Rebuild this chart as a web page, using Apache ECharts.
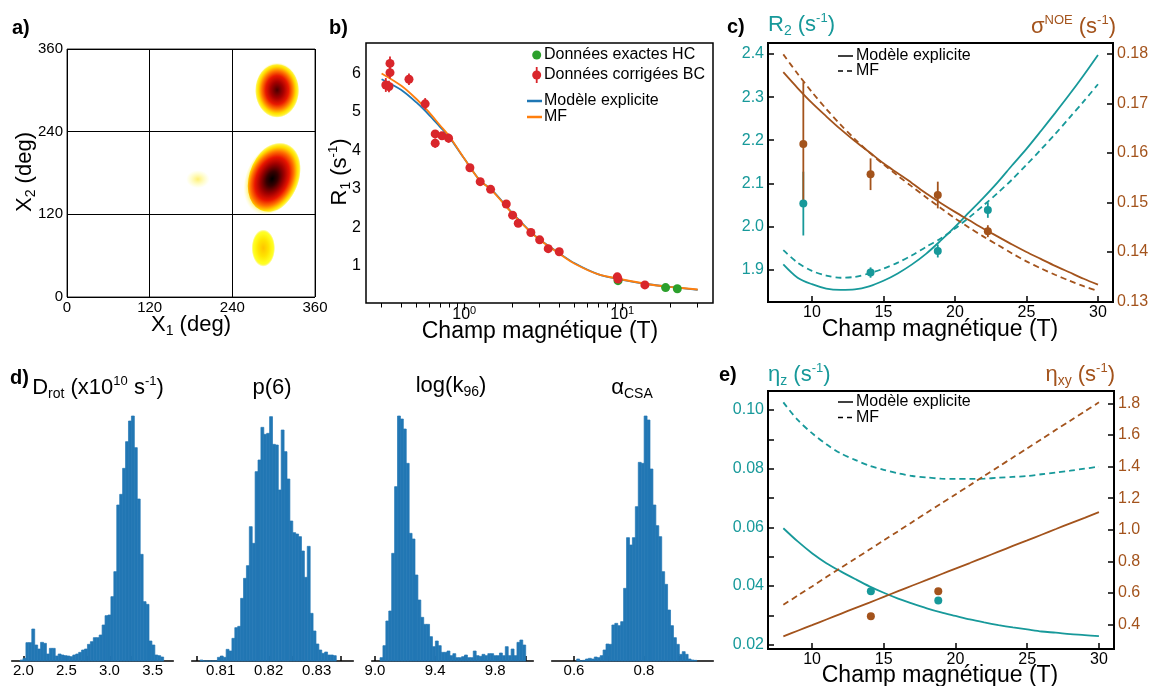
<!DOCTYPE html>
<html>
<head>
<meta charset="utf-8">
<script src="https://cdn.jsdelivr.net/npm/echarts@6/dist/echarts.min.js"></script>
<style>
html, body { margin: 0; padding: 0; background: #fff; }
#chart { width: 1151px; height: 686px; }
</style>
</head>
<body>
<div id="chart"></div>
<script>
const FONT = '"Liberation Sans", Arial, Helvetica, sans-serif';
const TEAL = '#17999a';
const BROWN = '#a3531c';
const HIST_BLUE = '#2277b4';
const RED = '#d9262b';
const GREEN = '#2ca02c';
const BLUE = '#1f77b4';
const ORANGE = '#ff7f0e';

// ---------- a) side-chain rotamer map ----------
const chiTicks = [0, 120, 240, 360];
const cellNames = ['7', '8', '9', '3', '5', '6', '1', '2', '3'];
const cellCornerChi1 = [0, 120, 240, 0, 120, 240, 0, 120, 240];
const cellCornerChi2 = [360, 360, 360, 240, 240, 240, 120, 120, 120];
const populationText = ['18.2 %', '81.5 %', '0.3 %'];
const populationChi2 = [360, 240, 120];
const cloudChi1 = [305, 304, 285, 190];
const cloudChi2 = [298, 176, 71, 171];
const cloudHalfWidth = [32, 38, 17, 17];
const cloudHalfHeight = [40, 55, 27, 13];
const cloudTilt = [0, -25, 0, 0];

// ---------- b) R1 relaxometry ----------
const bcField = [0.319, 0.334, 0.339, 0.339, 0.447, 0.566, 0.655, 0.655, 0.723, 0.796, 1.086, 1.262, 1.468, 1.845, 2.023, 2.197, 2.64, 3.0, 3.40, 3.99, 9.3, 9.4, 13.9];
const bcR1 = [5.70, 5.66, 6.02, 6.26, 5.85, 5.21, 4.43, 4.19, 4.38, 4.32, 3.55, 3.19, 2.99, 2.61, 2.32, 2.11, 1.87, 1.68, 1.45, 1.37, 0.72, 0.66, 0.51];
const bcR1Err = [0.18, 0.15, 0.15, 0.18, 0.15, 0.15, 0.10, 0.12, 0.10, 0.12, 0.06, 0.06, 0.05, 0.05, 0.05, 0.05, 0.04, 0.04, 0.04, 0.04, 0.05, 0.04, 0.03];
const hcField = [9.4, 18.8, 22.3];
const hcR1 = [0.62, 0.44, 0.41];
const curveField = [0.3, 0.4, 0.5, 0.6, 0.7, 0.8, 1.0, 1.25, 1.5, 2, 2.5, 3, 4, 5, 7, 10, 15, 20, 30];
const r1Explicit = [5.85, 5.57, 5.24, 4.92, 4.62, 4.36, 3.79, 3.23, 2.97, 2.39, 1.98, 1.69, 1.33, 1.07, 0.79, 0.64, 0.52, 0.46, 0.38];
const r1MF = [6.00, 5.68, 5.33, 4.99, 4.66, 4.38, 3.79, 3.23, 2.96, 2.38, 1.97, 1.68, 1.32, 1.06, 0.79, 0.65, 0.52, 0.46, 0.39];
const r1LogLabels = [1, 10];
const r1MinorTicks = [0.3, 0.4, 0.5, 0.6, 0.7, 0.8, 0.9, 2, 3, 4, 5, 6, 7, 8, 9, 20, 30];
const r1Ticks = [1, 2, 3, 4, 5, 6];

// ---------- c) R2 and sigma NOE ----------
const modelField = [8, 9, 10, 11, 12, 13, 14, 15, 16, 17, 18, 19, 20, 21, 22, 23, 24, 25, 26, 27, 28, 29, 30];
const r2Explicit = [1.912, 1.881, 1.866, 1.856, 1.853, 1.854, 1.861, 1.874, 1.891, 1.912, 1.937, 1.967, 1.999, 2.033, 2.067, 2.103, 2.142, 2.180, 2.221, 2.263, 2.306, 2.351, 2.398];
const r2MF = [1.945, 1.916, 1.897, 1.886, 1.881, 1.883, 1.891, 1.902, 1.916, 1.933, 1.953, 1.972, 1.995, 2.021, 2.049, 2.078, 2.109, 2.143, 2.178, 2.214, 2.252, 2.290, 2.330];
const noeExplicit = [0.1763, 0.1731, 0.1701, 0.1674, 0.1648, 0.1624, 0.1602, 0.1579, 0.1559, 0.1539, 0.1518, 0.1499, 0.1481, 0.1464, 0.1447, 0.1431, 0.1415, 0.1400, 0.1386, 0.1372, 0.1359, 0.1346, 0.1334];
const noeMF = [0.1799, 0.1760, 0.1723, 0.1689, 0.1657, 0.1628, 0.1601, 0.1577, 0.1554, 0.1532, 0.1510, 0.1489, 0.1468, 0.1449, 0.1431, 0.1414, 0.1397, 0.1381, 0.1367, 0.1354, 0.1342, 0.1331, 0.1321];
const obsField = [9.4, 14.1, 18.8, 22.3];
const r2Obs = [2.053, 1.893, 1.943, 2.038];
const r2Err = [0.074, 0.012, 0.015, 0.018];
const noeObs = [0.1618, 0.1557, 0.1515, 0.1442];
const noeErr = [0.0125, 0.0032, 0.0027, 0.0012];
const fieldTicks = [10, 15, 20, 25, 30];
const r2Ticks = [1.9, 2.0, 2.1, 2.2, 2.3, 2.4];
const noeTicks = [0.13, 0.14, 0.15, 0.16, 0.17, 0.18];

// ---------- e) cross-correlated rates ----------
const etaZExplicit = [0.0597, 0.0552, 0.0512, 0.0478, 0.0450, 0.0424, 0.0399, 0.0377, 0.0357, 0.0340, 0.0324, 0.0310, 0.0298, 0.0286, 0.0276, 0.0267, 0.0259, 0.0252, 0.0245, 0.0241, 0.0236, 0.0233, 0.0229];
const etaZMF = [0.1026, 0.0966, 0.0921, 0.0883, 0.0852, 0.0830, 0.0810, 0.0796, 0.0784, 0.0775, 0.0770, 0.0766, 0.0765, 0.0765, 0.0766, 0.0769, 0.0772, 0.0775, 0.0781, 0.0787, 0.0793, 0.0800, 0.0807];
const etaXYExplicit = [0.326, 0.362, 0.397, 0.433, 0.469, 0.505, 0.540, 0.576, 0.612, 0.648, 0.683, 0.719, 0.755, 0.790, 0.826, 0.862, 0.898, 0.933, 0.969, 1.005, 1.041, 1.076, 1.112];
const etaXYMF = [0.526, 0.584, 0.642, 0.701, 0.759, 0.817, 0.875, 0.933, 0.991, 1.050, 1.108, 1.166, 1.224, 1.282, 1.341, 1.399, 1.457, 1.515, 1.573, 1.632, 1.690, 1.748, 1.806];
const etaField = [14.1, 18.8];
const etaZObs = [0.0382, 0.0351];
const etaZErr = [0.0004, 0.0010];
const etaXYObs = [0.453, 0.611];
const etaXYErr = [0.008, 0.008];
const etaZTicks = [0.02, 0.03, 0.04, 0.05, 0.06, 0.07, 0.08, 0.09, 0.10];
const etaZLabels = [0.02, 0.04, 0.06, 0.08, 0.10];
const etaXYTicks = [0.4, 0.6, 0.8, 1.0, 1.2, 1.4, 1.6, 1.8];

// ---------- d) posterior histograms ----------
const drotStart = 1.962, drotWidth = 0.034;
const drotCounts = [3, 8, 55, 55, 96, 48, 36, 56, 53, 21, 38, 38, 15, 21, 18, 16, 15, 13, 18, 21, 26, 33, 36, 50, 58, 70, 70, 78, 108, 136, 138, 193, 268, 468, 500, 578, 658, 720, 735, 640, 486, 320, 178, 170, 60, 48, 18, 16, 12];
const drotTicks = [2.0, 2.25, 2.5, 2.75, 3.0, 3.25, 3.5];
const drotLabels = [2.0, 2.5, 3.0, 3.5];
const p6Start = 0.8057, p6Width = 0.000604;
const p6Counts = [3, 0, 0, 0, 0, 0, 11, 15, 11, 35, 30, 68, 100, 104, 188, 248, 286, 403, 353, 568, 603, 701, 680, 683, 733, 650, 648, 513, 693, 628, 546, 420, 385, 381, 373, 330, 251, 344, 143, 90, 51, 33, 23, 27, 18, 18, 16];
const p6Ticks = [0.805, 0.81, 0.815, 0.82, 0.825, 0.83, 0.835];
const p6Labels = [0.81, 0.82, 0.83];
const logkStart = 9.0334, logkWidth = 0.01938;
const logkCounts = [10, 46, 120, 150, 323, 523, 735, 726, 696, 593, 383, 366, 258, 183, 131, 110, 110, 73, 43, 60, 46, 26, 26, 30, 16, 22, 10, 10, 13, 18, 10, 10, 30, 16, 14, 20, 16, 22, 22, 16, 16, 24, 16, 43, 16, 36, 16, 56, 63, 48];
const logkTicks = [9.0, 9.2, 9.4, 9.6, 9.8, 10.0];
const logkLabels = [9.0, 9.4, 9.8];
const alphaStart = 0.6076, alphaWidth = 0.00838;
const alphaCounts = [6, 0, 2, 6, 8, 6, 12, 10, 16, 33, 51, 50, 108, 113, 106, 118, 218, 370, 348, 370, 463, 596, 593, 735, 723, 576, 468, 406, 373, 268, 230, 153, 106, 70, 50, 20, 28, 20, 6, 3, 2];
const alphaTicks = [0.6, 0.7, 0.8, 0.9];
const alphaLabels = [0.6, 0.8];

// ---------- helpers ----------
const zip = (xs, ys) => xs.map((x, i) => [x, ys[i]]);
const zip3 = (xs, ys, es) => xs.map((x, i) => [x, ys[i], es[i]]);
const bins = (start, width, counts) => counts.map((n, i) => [start + i * width, start + (i + 1) * width, n]);

function renderBin(params, api) {
  const p0 = api.coord([api.value(0), 0]);
  const p1 = api.coord([api.value(1), api.value(2)]);
  return {
    type: 'rect',
    shape: { x: p0[0], y: p1[1], width: p1[0] - p0[0], height: p0[1] - p1[1] },
    style: { fill: HIST_BLUE, stroke: HIST_BLUE, lineWidth: 0.7 }
  };
}

function renderErrorBar(params, api) {
  const x = api.value(0), y = api.value(1), e = api.value(2);
  const hi = api.coord([x, y + e]), lo = api.coord([x, y - e]);
  return { type: 'line', shape: { x1: hi[0], y1: hi[1], x2: lo[0], y2: lo[1] }, style: { stroke: api.visual('color'), lineWidth: 1.8 } };
}

const CLOUD_FILLS = [
  { type: 'radial', x: 0.5, y: 0.47, r: 0.5, colorStops: [
    { offset: 0, color: '#4a0000' }, { offset: 0.3, color: '#a80000' }, { offset: 0.52, color: '#e81800' },
    { offset: 0.7, color: '#ff7a00' }, { offset: 0.85, color: '#ffe000' }, { offset: 0.95, color: 'rgba(255,240,0,0.55)' },
    { offset: 1, color: 'rgba(255,255,0,0)' }] },
  { type: 'radial', x: 0.45, y: 0.56, r: 0.5, colorStops: [
    { offset: 0, color: '#000000' }, { offset: 0.2, color: '#360000' }, { offset: 0.42, color: '#a00000' },
    { offset: 0.6, color: '#e81400' }, { offset: 0.75, color: '#ff7000' }, { offset: 0.88, color: '#ffdc00' },
    { offset: 0.96, color: 'rgba(255,240,0,0.5)' }, { offset: 1, color: 'rgba(255,255,0,0)' }] },
  { type: 'radial', x: 0.5, y: 0.5, r: 0.5, colorStops: [
    { offset: 0, color: '#ffc400' }, { offset: 0.45, color: '#ffe400' }, { offset: 0.82, color: '#ffff20' },
    { offset: 1, color: 'rgba(255,255,0,0)' }] },
  { type: 'radial', x: 0.5, y: 0.5, r: 0.5, colorStops: [
    { offset: 0, color: 'rgba(255,225,0,0.55)' }, { offset: 1, color: 'rgba(255,255,60,0)' }] }
];
const CLOUD_GLOW = [8, 8, 5, 0];

function renderCloud(params, api) {
  const c = api.coord([api.value(0), api.value(1)]);
  const s = api.size([api.value(2), api.value(3)]);
  const k = api.value(5);
  return {
    type: 'circle', x: c[0], y: c[1], rotation: api.value(4) * Math.PI / 180, scaleX: s[0] / s[1],
    shape: { cx: 0, cy: 0, r: s[1] },
    style: { fill: CLOUD_FILLS[k], shadowBlur: CLOUD_GLOW[k], shadowColor: 'rgba(255,235,0,0.9)' }
  };
}

function txt(x, y, text, o) {
  o = o || {};
  const size = o.size || 22, color = o.color || '#000', align = o.align || 'center';
  return {
    type: 'text', x: x, y: y, rotation: o.rotation || 0, silent: true, z: 100,
    style: {
      text: text, fontFamily: FONT, fontSize: size, fontWeight: o.weight || 'normal', fill: color,
      align: align, verticalAlign: 'middle', textAlign: align, textVerticalAlign: 'middle',
      rich: {
        n: { fontFamily: FONT, fontSize: size, fontWeight: o.weight || 'normal', fill: color },
        sub: { fontFamily: FONT, fontSize: Math.round(size * 0.64), fill: color, padding: [Math.round(size * 0.55), 0, 0, 0] },
        sup: { fontFamily: FONT, fontSize: Math.round(size * 0.6), fill: color, padding: [0, 0, Math.round(size * 0.62), 0] }
      }
    }
  };
}

function legendLine(x1, x2, y, color, width, dash) {
  return { type: 'line', silent: true, z: 100, shape: { x1: x1, y1: y, x2: x2, y2: y },
    style: { stroke: color, lineWidth: width, lineDash: dash || null } };
}

const tickLabel = (extra) => Object.assign({ fontFamily: FONT, fontSize: 16, color: '#000' }, extra);
const noLine = { show: false };
const noSplit = { show: false };

// ---------- grids ----------
const histLefts = [11.7, 191.7, 371.7, 551.7];
const grids = [
  { left: 67, top: 49, width: 248, height: 248, show: true, borderColor: '#333', borderWidth: 1, outerBoundsMode: 'none' },
  { left: 366, top: 43, width: 347, height: 260, show: true, borderColor: '#000', borderWidth: 1.5, outerBoundsMode: 'none' },
  { left: 768, top: 43, width: 345, height: 259, show: true, borderColor: '#000', borderWidth: 2, outerBoundsMode: 'none' },
  { left: 768, top: 391, width: 346, height: 258, show: true, borderColor: '#000', borderWidth: 2, outerBoundsMode: 'none' }
].concat(histLefts.map(l => ({ left: l, top: 416, width: 161.6, height: 245, outerBoundsMode: 'none' })));

const fieldAxis = (gridIndex) => ({
  gridIndex: gridIndex, type: 'value', min: 6.93, max: 31.05, axisLine: noLine, splitLine: noSplit,
  axisTick: { show: true, inside: true, length: 6, customValues: fieldTicks, lineStyle: { color: '#000', width: 1.5 } },
  axisLabel: tickLabel({ customValues: fieldTicks, margin: 3 })
});

const sideAxis = (gridIndex, position, min, max, ticks, labels, color, digits) => ({
  gridIndex: gridIndex, type: 'value', position: position, min: min, max: max, axisLine: noLine, splitLine: noSplit,
  axisTick: { show: true, inside: true, length: 6, customValues: ticks, lineStyle: { color: '#000', width: 1.5 } },
  axisLabel: tickLabel({ customValues: labels, color: color, margin: 4, formatter: v => Number(v).toFixed(digits) })
});

const histAxis = (k, min, max, ticks, labels, digits) => ({
  gridIndex: 4 + k, type: 'value', min: min, max: max, splitLine: noSplit,
  axisLine: { show: true, onZero: false, lineStyle: { color: '#000', width: 1.5 } },
  axisTick: { show: true, inside: true, length: 5, customValues: ticks, lineStyle: { color: '#000', width: 1.5 } },
  axisLabel: tickLabel({ customValues: labels, fontSize: 15, margin: 2, formatter: v => Number(v).toFixed(digits) })
});

const xAxes = [
  { gridIndex: 0, type: 'value', min: 0, max: 360, interval: 120, axisLine: noLine, axisTick: { show: false },
    splitLine: { show: true, lineStyle: { color: '#000', width: 1 } }, axisLabel: tickLabel({ fontSize: 15, margin: 3 }) },
  { gridIndex: 1, type: 'log', logBase: 10, min: 0.239, max: 37.5, position: 'bottom', axisLine: noLine, splitLine: noSplit,
    axisTick: { show: true, length: 7, customValues: r1LogLabels, lineStyle: { color: '#000', width: 1.2 } },
    axisLabel: tickLabel({ customValues: r1LogLabels, margin: 2,
      formatter: v => '10{sup|' + Math.round(Math.log10(v)) + '}',
      rich: { sup: { fontFamily: FONT, fontSize: 11, color: '#000', padding: [0, 0, 9, 0] } } }) },
  { gridIndex: 1, type: 'log', logBase: 10, min: 0.239, max: 37.5, position: 'bottom', axisLine: noLine, splitLine: noSplit,
    axisTick: { show: true, length: 4.5, customValues: r1MinorTicks, lineStyle: { color: '#000', width: 1 } },
    axisLabel: { show: false } },
  fieldAxis(2),
  fieldAxis(3),
  histAxis(0, 1.865, 3.74, drotTicks, drotLabels, 1),
  histAxis(1, 0.80396, 0.83764, p6Ticks, p6Labels, 2),
  histAxis(2, 8.978, 10.053, logkTicks, logkLabels, 1),
  histAxis(3, 0.5362, 0.998, alphaTicks, alphaLabels, 1)
];

const yAxes = [
  { gridIndex: 0, type: 'value', min: 0, max: 360, interval: 120, axisLine: noLine, axisTick: { show: false },
    splitLine: { show: true, lineStyle: { color: '#000', width: 1 } }, axisLabel: tickLabel({ fontSize: 15, margin: 4 }) },
  { gridIndex: 1, type: 'value', min: 0.04, max: 6.79, axisLine: noLine, axisTick: { show: false }, splitLine: noSplit,
    axisLabel: tickLabel({ customValues: r1Ticks, margin: 5 }) },
  sideAxis(2, 'left', 1.8247, 2.4256, r2Ticks, r2Ticks, TEAL, 1),
  sideAxis(2, 'right', 0.1299, 0.1822, noeTicks, noeTicks, BROWN, 2),
  sideAxis(3, 'left', 0.01854, 0.10647, etaZTicks, etaZLabels, TEAL, 2),
  sideAxis(3, 'right', 0.2465, 1.8777, etaXYTicks, etaXYTicks, BROWN, 1)
].concat([0, 1, 2, 3].map(k => ({ gridIndex: 4 + k, type: 'value', min: 0, max: 735, show: false })));

// ---------- series ----------
const curve = (name, xi, yi, xs, ys, color, dashed) => ({
  name: name, type: 'line', xAxisIndex: xi, yAxisIndex: yi, data: zip(xs, ys), smooth: 0.3,
  showSymbol: false, symbol: 'none', silent: true, z: 3,
  lineStyle: { color: color, width: 1.8, type: dashed ? [6, 4] : 'solid' }
});
const points = (name, xi, yi, xs, ys, color, size) => ({
  name: name, type: 'scatter', xAxisIndex: xi, yAxisIndex: yi, data: zip(xs, ys), symbolSize: size || 8,
  itemStyle: { color: color, opacity: 1 }, silent: true, z: 5
});
const errorBars = (name, xi, yi, xs, ys, es, color) => ({
  name: name, type: 'custom', xAxisIndex: xi, yAxisIndex: yi, data: zip3(xs, ys, es),
  renderItem: renderErrorBar, itemStyle: { color: color }, encode: { x: 0, y: 1 }, silent: true, z: 4
});
const hist = (k, name, start, width, counts) => ({
  name: name, type: 'custom', xAxisIndex: 5 + k, yAxisIndex: 6 + k, data: bins(start, width, counts),
  renderItem: renderBin, encode: { x: [0, 1], y: 2 }, silent: true
});

const series = [
  // a)
  { name: 'populations', type: 'custom', xAxisIndex: 0, yAxisIndex: 0, renderItem: renderCloud, silent: true, z: 2,
    data: cloudChi1.map((c, i) => [c, cloudChi2[i], cloudHalfWidth[i], cloudHalfHeight[i], cloudTilt[i], i]),
    encode: { x: 0, y: 1 } },
  { name: 'rotamères', type: 'scatter', xAxisIndex: 0, yAxisIndex: 0, symbolSize: 1, silent: true, z: 6,
    itemStyle: { opacity: 0 },
    data: cellNames.map((n, i) => ({ name: n, value: [cellCornerChi1[i], cellCornerChi2[i]] })),
    label: { show: true, formatter: '{b}', position: [3, 2], align: 'left', verticalAlign: 'top',
      fontFamily: FONT, fontSize: 15, color: '#000' } },
  { name: 'pourcentages', type: 'scatter', xAxisIndex: 0, yAxisIndex: 0, symbolSize: 1, silent: true, z: 6,
    itemStyle: { opacity: 0 },
    data: populationText.map((t, i) => ({ name: t, value: [360, populationChi2[i]] })),
    label: { show: true, formatter: '{b}', position: [-2, 2], align: 'right', verticalAlign: 'top',
      fontFamily: FONT, fontSize: 15, color: '#000' } },
  // b)
  curve('Modèle explicite', 1, 1, curveField, r1Explicit, BLUE, false),
  curve('MF', 1, 1, curveField, r1MF, ORANGE, false),
  points('Données exactes HC', 1, 1, hcField, hcR1, GREEN, 9),
  errorBars('Données corrigées BC', 1, 1, bcField, bcR1, bcR1Err, RED),
  points('Données corrigées BC', 1, 1, bcField, bcR1, RED, 9),
  // c)
  curve('R2 Modèle explicite', 3, 2, modelField, r2Explicit, TEAL, false),
  curve('R2 MF', 3, 2, modelField, r2MF, TEAL, true),
  curve('σNOE Modèle explicite', 3, 3, modelField, noeExplicit, BROWN, false),
  curve('σNOE MF', 3, 3, modelField, noeMF, BROWN, true),
  errorBars('R2 exp', 3, 2, obsField, r2Obs, r2Err, TEAL),
  points('R2 exp', 3, 2, obsField, r2Obs, TEAL, 8),
  errorBars('σNOE exp', 3, 3, obsField, noeObs, noeErr, BROWN),
  points('σNOE exp', 3, 3, obsField, noeObs, BROWN, 8),
  // e)
  curve('ηz Modèle explicite', 4, 4, modelField, etaZExplicit, TEAL, false),
  curve('ηz MF', 4, 4, modelField, etaZMF, TEAL, true),
  curve('ηxy Modèle explicite', 4, 5, modelField, etaXYExplicit, BROWN, false),
  curve('ηxy MF', 4, 5, modelField, etaXYMF, BROWN, true),
  errorBars('ηz exp', 4, 4, etaField, etaZObs, etaZErr, TEAL),
  points('ηz exp', 4, 4, etaField, etaZObs, TEAL, 8),
  errorBars('ηxy exp', 4, 5, etaField, etaXYObs, etaXYErr, BROWN),
  points('ηxy exp', 4, 5, etaField, etaXYObs, BROWN, 8),
  // d)
  hist(0, 'Drot', drotStart, drotWidth, drotCounts),
  hist(1, 'p(6)', p6Start, p6Width, p6Counts),
  hist(2, 'log(k96)', logkStart, logkWidth, logkCounts),
  hist(3, 'αCSA', alphaStart, alphaWidth, alphaCounts)
];

// ---------- titles, panel letters and legends ----------
const graphics = [
  txt(12, 28, 'a)', { size: 20, weight: 'bold', align: 'left' }),
  txt(329, 28, 'b)', { size: 20, weight: 'bold', align: 'left' }),
  txt(727, 27, 'c)', { size: 20, weight: 'bold', align: 'left' }),
  txt(10, 378, 'd)', { size: 20, weight: 'bold', align: 'left' }),
  txt(719, 375, 'e)', { size: 20, weight: 'bold', align: 'left' }),

  txt(191, 325, '{n|Χ}{sub|1}{n| (deg)}'),
  txt(25, 172, '{n|Χ}{sub|2}{n| (deg)}', { rotation: Math.PI / 2 }),

  txt(540, 332, 'Champ magnétique (T)', { size: 23 }),
  txt(340, 172, '{n|R}{sub|1}{n| (s}{sup|-1}{n|)}', { rotation: Math.PI / 2 }),

  txt(768, 25, '{n|R}{sub|2}{n| (s}{sup|-1}{n|)}', { color: TEAL, align: 'left' }),
  txt(1116, 27, '{n|σ}{sup|NOE}{n| (s}{sup|-1}{n|)}', { color: BROWN, align: 'right' }),
  txt(940, 330, 'Champ magnétique (T)', { size: 23 }),

  txt(768, 375, '{n|η}{sub|z}{n| (s}{sup|-1}{n|)}', { color: TEAL, align: 'left' }),
  txt(1115, 375, '{n|η}{sub|xy}{n| (s}{sup|-1}{n|)}', { color: BROWN, align: 'right' }),
  txt(940, 676, 'Champ magnétique (T)', { size: 23 }),

  txt(98, 388, '{n|D}{sub|rot}{n| (x10}{sup|10}{n| s}{sup|-1}{n|)}'),
  txt(272, 388, 'p(6)'),
  txt(451, 386, '{n|log(k}{sub|96}{n|)}'),
  txt(632, 388, '{n|α}{sub|CSA}'),

  // b) legend
  { type: 'circle', silent: true, z: 100, shape: { cx: 536.7, cy: 55, r: 4.5 }, style: { fill: GREEN } },
  { type: 'line', silent: true, z: 100, shape: { x1: 536.7, y1: 67, x2: 536.7, y2: 83 }, style: { stroke: RED, lineWidth: 1.8 } },
  { type: 'circle', silent: true, z: 100, shape: { cx: 536.7, cy: 75, r: 4.5 }, style: { fill: RED } },
  txt(544, 55, 'Données exactes HC', { size: 16, align: 'left' }),
  txt(544, 75, 'Données corrigées BC', { size: 16, align: 'left' }),
  legendLine(527, 542, 101, BLUE, 2.5),
  legendLine(527, 542, 117, ORANGE, 2.5),
  txt(544, 101, 'Modèle explicite', { size: 16, align: 'left' }),
  txt(544, 117, 'MF', { size: 16, align: 'left' }),

  // c) legend
  legendLine(838, 853, 56, '#000', 1.5),
  legendLine(838, 853, 71, '#000', 1.5, [5, 4]),
  txt(856, 56, 'Modèle explicite', { size: 16, align: 'left' }),
  txt(856, 71, 'MF', { size: 16, align: 'left' }),

  // e) legend
  legendLine(838, 853, 402, '#000', 1.5),
  legendLine(838, 853, 417.5, '#000', 1.5, [5, 4]),
  txt(856, 402, 'Modèle explicite', { size: 16, align: 'left' }),
  txt(856, 417.5, 'MF', { size: 16, align: 'left' })
];

const chart = echarts.init(document.getElementById('chart'), null, { renderer: 'canvas' });
chart.setOption({
  animation: false,
  backgroundColor: '#ffffff',
  textStyle: { fontFamily: FONT },
  grid: grids,
  xAxis: xAxes,
  yAxis: yAxes,
  series: series,
  graphic: { elements: graphics }
});
</script>
</body>
</html>
